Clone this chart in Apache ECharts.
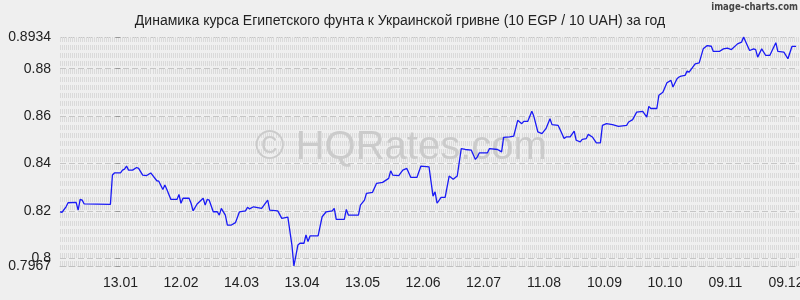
<!DOCTYPE html>
<html>
<head>
<meta charset="utf-8">
<script src="https://cdn.jsdelivr.net/npm/echarts@6/dist/echarts.min.js"></script>
<style>
html,body{margin:0;padding:0;background:#efefef;}
#c{width:800px;height:300px;}
</style>
</head>
<body>
<div id="c"></div>
<script>
// Day offsets relative to 13.01 (first labelled date), one label every 30 days
const days = [-30,-29,-27,-26,-22,-21,-20,-19,-18,-5,-4,-3,0,1,2,3,4,6,8,9,11,13,15,18,19,21,22,23,25,28,29,30,31,34,35,36,38,41,
  42,43,44,46,48,49,50,52,53,55,57,59,62,63,64,66,70,73,74,78,80,83,85,86,88,89,91,92,93,94,98,100,102,105,106,107,111,112,113,118,119,121,122,125,127,130,133,134,135,138,
  140,142,144,147,149,153,155,156,157,159,161,163,165,167,169,171,174,176,177,178,182,183,187,189,190,193,195,197,199,200,202,204,205,207,209,211,213,214,217,218,220,221,223,225,226,228,229,231,232,234,236,238,
  239,241,244,247,251,252,254,256,259,261,262,263,266,267,269,271,273,274,276,277,278,280,281,282,285,287,289,291,293,294,297,299,301,303,306,308,309,310,312,314,315,316,318,320,322,325,326,329,331,333,335];
const values = [0.8196,0.8194,0.8217,0.8234,0.8236,0.8203,0.8248,0.8245,0.8229,0.8227,0.8351,0.8360,0.8360,0.8372,0.8376,0.8389,0.8372,0.8372,0.8383,0.8379,0.8351,0.8349,0.8360,0.8327,0.8325,0.8290,0.8309,0.8290,0.8248,0.8248,0.8269,0.8232,0.8253,0.8253,0.8232,0.8200,0.8229,0.8253,
  0.8224,0.8248,0.8245,0.8196,0.8196,0.8182,0.8210,0.8182,0.8140,0.8140,0.8150,0.8196,0.8200,0.8215,0.8208,0.8217,0.8210,0.8245,0.8203,0.8200,0.8168,0.8173,0.8056,0.7967,0.8056,0.8063,0.8063,0.8098,0.8070,0.8094,0.8094,0.8175,0.8196,0.8200,0.8210,0.8164,0.8164,0.8206,0.8182,0.8182,0.8224,0.8245,0.8274,0.8278,0.8316,0.8320,0.8337,0.8369,0.8351,0.8349,
  0.8372,0.8379,0.8341,0.8341,0.8389,0.8386,0.8262,0.8280,0.8232,0.8257,0.8257,0.8347,0.8333,0.8347,0.8463,0.8459,0.8456,0.8417,0.8428,0.8445,0.8445,0.8463,0.8459,0.8449,0.8510,0.8512,0.8515,0.8582,0.8568,0.8578,0.8578,0.8620,0.8599,0.8533,0.8526,0.8547,0.8589,0.8564,0.8561,0.8543,0.8505,0.8512,0.8512,0.8537,0.8498,0.8491,0.8502,0.8505,0.8523,0.8512,0.8487,0.8487,
  0.8561,0.8568,0.8564,0.8557,0.8561,0.8575,0.8585,0.8617,0.8620,0.8596,0.8641,0.8632,0.8632,0.8688,0.8701,0.8741,0.8751,0.8723,0.8758,0.8765,0.8769,0.8772,0.8790,0.8786,0.8821,0.8825,0.8884,0.8898,0.8895,0.8873,0.8873,0.8884,0.8887,0.8881,0.8905,0.8912,0.8934,0.8915,0.8877,0.8884,0.8881,0.8849,0.8884,0.8856,0.8856,0.8910,0.8873,0.8870,0.8842,0.8894,0.8894];
const xTickLabels = ['13.01','12.02','14.03','13.04','13.05','12.06','12.07','11.08','10.09','10.10','09.11','09.12'];
const yMin = 0.7967, yMax = 0.8934;
const yTicks = [0.8,0.82,0.84,0.86,0.88,0.8934];
const yTickLabels = ['0.8','0.82','0.84','0.86','0.88','0.8934'];
const yMinLabel = '0.7967';
const titleText = 'Динамика курса Египетского фунта к Украинской гривне (10 EGP / 10 UAH) за год';

const seriesData = days.map((d, i) => [d, values[i]]);
const chart = echarts.init(document.getElementById('c'), null, {renderer: 'canvas'});
const FONT = '"Liberation Sans", Arial, sans-serif';
const labelStyle = {margin: 9, fontFamily: FONT, fontSize: 14, color: '#222', showMinLabel: true, showMaxLabel: true, hideOverlap: false};
chart.setOption({
  animation: false,
  backgroundColor: '#efefef',
  title: {
    text: titleText, left: 'center', top: 9,
    textStyle: {fontFamily: FONT, fontSize: 14, fontWeight: 'normal', color: '#222'}
  },
  graphic: [
    {type: 'text', x: 798, y: 2, scaleX: 0.78, z: 10, silent: true,
     style: {text: 'image-charts.com', align: 'right', verticalAlign: 'top',
             font: 'bold 11px "DejaVu Sans", sans-serif', fill: '#444'}},
    {type: 'text', z: 1, silent: true,
     style: {x: 401, y: 148, text: '© HQRates.com', align: 'center', verticalAlign: 'middle',
             font: '40px "Liberation Sans", Arial, sans-serif', fill: '#cbcbcb'}}
  ],
  grid: {left: 60, right: 2, top: 37, bottom: 34, outerBoundsMode: 'none', containLabel: false},
  xAxis: [
    {
      type: 'value', min: -30, max: 336, interval: 30,
      axisLine: {show: true, lineStyle: {color: '#c0c0c0', type: [6, 3]}},
      axisTick: {show: false},
      splitLine: {show: false},
      axisLabel: {
        margin: 10, fontFamily: FONT, fontSize: 14, color: '#222', hideOverlap: false,
        formatter: v => (v >= 0 && v % 30 === 0 && xTickLabels[v / 30]) ? xTickLabels[v / 30] : ''
      }
    },
    {
      type: 'value', min: -30, max: 336, interval: 1, show: true,
      axisLine: {show: false}, axisTick: {show: false}, axisLabel: {show: false},
      splitLine: {show: true, lineStyle: {color: '#dadada', width: 1, type: [5, 3]}}
    }
  ],
  yAxis: [
    {
      type: 'value', min: yMin, max: yMax, position: 'left',
      axisLine: {show: false},
      axisTick: {show: true, length: 5, customValues: yTicks, lineStyle: {color: '#999'}},
      axisLabel: Object.assign({}, labelStyle, {
        customValues: yTicks,
        formatter: v => { const i = yTicks.indexOf(v); return i >= 0 ? yTickLabels[i] : ''; }
      }),
      splitLine: {show: true, lineStyle: {color: '#c6c6c6', width: 1, type: [6, 3]}}
    },
    {
      type: 'value', min: yMin, max: yMax, position: 'left', offset: 0,
      axisLine: {show: false},
      axisTick: {show: true, length: 5, customValues: [yMin], lineStyle: {color: '#999'}},
      axisLabel: Object.assign({}, labelStyle, {
        customValues: [yMin],
        formatter: () => yMinLabel
      }),
      splitLine: {show: false}
    }
  ],
  series: [{
    type: 'line', xAxisIndex: 0, yAxisIndex: 0, data: seriesData, showSymbol: false, z: 5,
    lineStyle: {color: '#1a1af5', width: 1.3}
  }]
});
</script>
</body>
</html>
